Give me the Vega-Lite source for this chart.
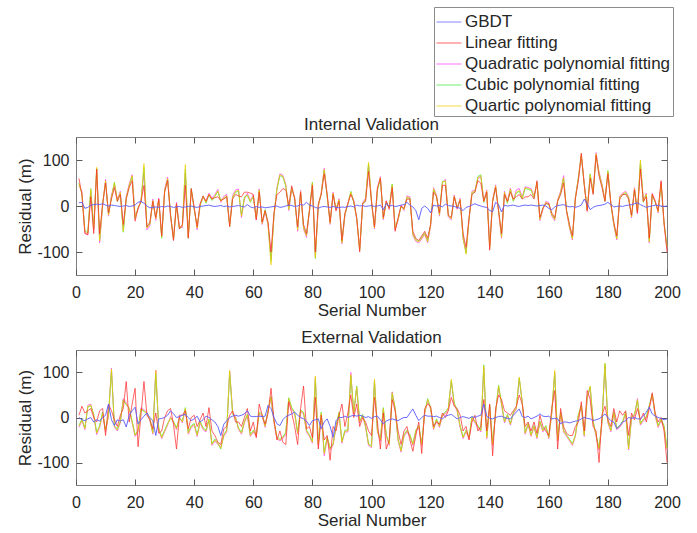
{
"$schema": "https://vega.github.io/schema/vega-lite/v6.json",
"background": "white",
"padding": {"left": 16, "top": 6, "right": 5, "bottom": 5},
"config": {
  "font": "Liberation Sans",
  "view": {"stroke": "#7f7f7f", "strokeWidth": 1},
  "axis": {"grid": false, "domain": false, "tickColor": "#5a5a5a", "tickSize": -6, "labelPadding": 13, "labelFont": "Liberation Sans", "titleFont": "Liberation Sans", "labelFontSize": 16, "titleFontSize": 17, "titleFontWeight": "normal", "labelColor": "#262626", "titleColor": "#262626", "labelFlush": false, "labelExpr": "'' + datum.value"},
  "axisX": {"labelPadding": 15},
  "title": {"font": "Liberation Sans", "fontSize": 17, "fontWeight": "normal", "color": "#262626", "offset": 3},
  "legend": {"labelFont": "Liberation Sans"}
},
"datasets": {"rows": [
{"p":"I","n":1,"g":7,"l":60,"q":44,"c":50,"r":48},
{"p":"I","n":2,"g":8,"l":25,"q":32,"c":26,"r":28},
{"p":"I","n":3,"g":-5,"l":-60,"q":-58,"c":-53,"r":-55},
{"p":"I","n":4,"g":-3,"l":-62,"q":-63,"c":-58,"r":-60},
{"p":"I","n":5,"g":2,"l":20,"q":32,"c":38,"r":36},
{"p":"I","n":6,"g":3,"l":-60,"q":-52,"c":-48,"r":-50},
{"p":"I","n":7,"g":4,"l":80,"q":78,"c":82,"r":84},
{"p":"I","n":8,"g":3,"l":-60,"q":-80,"c":-74,"r":-76},
{"p":"I","n":9,"g":5,"l":5,"q":-2,"c":4,"r":2},
{"p":"I","n":10,"g":2,"l":50,"q":58,"c":53,"r":55},
{"p":"I","n":11,"g":0,"l":-15,"q":-22,"c":-18,"r":-20},
{"p":"I","n":12,"g":2,"l":15,"q":24,"c":18,"r":20},
{"p":"I","n":13,"g":1,"l":40,"q":46,"c":52,"r":50},
{"p":"I","n":14,"g":0,"l":10,"q":15,"c":10,"r":12},
{"p":"I","n":15,"g":-1,"l":25,"q":32,"c":28,"r":30},
{"p":"I","n":16,"g":0,"l":-40,"q":-52,"c":-57,"r":-55},
{"p":"I","n":17,"g":1,"l":15,"q":21,"c":16,"r":18},
{"p":"I","n":18,"g":-1,"l":40,"q":48,"c":43,"r":45},
{"p":"I","n":19,"g":0,"l":55,"q":68,"c":64,"r":66},
{"p":"I","n":20,"g":2,"l":-33,"q":-22,"c":-27,"r":-25},
{"p":"I","n":21,"g":8,"l":-5,"q":-8,"c":-3,"r":-5},
{"p":"I","n":22,"g":10,"l":10,"q":13,"c":8,"r":10},
{"p":"I","n":23,"g":6,"l":45,"q":72,"c":84,"r":92},
{"p":"I","n":24,"g":0,"l":-45,"q":-52,"c":-46,"r":-48},
{"p":"I","n":25,"g":-4,"l":-35,"q":-43,"c":-38,"r":-40},
{"p":"I","n":26,"g":-3,"l":10,"q":15,"c":10,"r":12},
{"p":"I","n":27,"g":-2,"l":-25,"q":-31,"c":-26,"r":-28},
{"p":"I","n":28,"g":-3,"l":15,"q":17,"c":12,"r":14},
{"p":"I","n":29,"g":-1,"l":-65,"q":-65,"c":-70,"r":-68},
{"p":"I","n":30,"g":-2,"l":30,"q":37,"c":32,"r":34},
{"p":"I","n":31,"g":0,"l":55,"q":63,"c":58,"r":60},
{"p":"I","n":32,"g":-1,"l":-20,"q":-23,"c":-18,"r":-20},
{"p":"I","n":33,"g":-3,"l":-75,"q":-70,"c":-74,"r":-72},
{"p":"I","n":34,"g":-2,"l":5,"q":8,"c":3,"r":5},
{"p":"I","n":35,"g":-1,"l":-50,"q":-45,"c":-50,"r":-48},
{"p":"I","n":36,"g":-3,"l":-40,"q":-47,"c":-42,"r":-44},
{"p":"I","n":37,"g":-2,"l":45,"q":72,"c":80,"r":90},
{"p":"I","n":38,"g":-1,"l":-70,"q":-65,"c":-70,"r":-68},
{"p":"I","n":39,"g":0,"l":38,"q":33,"c":38,"r":36},
{"p":"I","n":40,"g":-2,"l":-5,"q":-2,"c":-7,"r":-5},
{"p":"I","n":41,"g":-3,"l":-45,"q":-52,"c":-46,"r":-48},
{"p":"I","n":42,"g":-1,"l":5,"q":4,"c":0,"r":2},
{"p":"I","n":43,"g":0,"l":22,"q":17,"c":22,"r":20},
{"p":"I","n":44,"g":1,"l":10,"q":12,"c":6,"r":8},
{"p":"I","n":45,"g":2,"l":25,"q":28,"c":24,"r":26},
{"p":"I","n":46,"g":0,"l":15,"q":17,"c":12,"r":14},
{"p":"I","n":47,"g":-1,"l":18,"q":25,"c":20,"r":22},
{"p":"I","n":48,"g":0,"l":20,"q":36,"c":31,"r":33},
{"p":"I","n":49,"g":1,"l":12,"q":8,"c":12,"r":10},
{"p":"I","n":50,"g":-1,"l":15,"q":21,"c":16,"r":18},
{"p":"I","n":51,"g":0,"l":20,"q":25,"c":20,"r":22},
{"p":"I","n":52,"g":-2,"l":-45,"q":-40,"c":-44,"r":-42},
{"p":"I","n":53,"g":-1,"l":15,"q":23,"c":18,"r":20},
{"p":"I","n":54,"g":0,"l":25,"q":35,"c":30,"r":32},
{"p":"I","n":55,"g":1,"l":22,"q":37,"c":32,"r":34},
{"p":"I","n":56,"g":-1,"l":20,"q":-25,"c":-20,"r":-22},
{"p":"I","n":57,"g":-2,"l":30,"q":15,"c":20,"r":18},
{"p":"I","n":58,"g":3,"l":30,"q":28,"c":23,"r":25},
{"p":"I","n":59,"g":-2,"l":28,"q":12,"c":8,"r":10},
{"p":"I","n":60,"g":-4,"l":25,"q":24,"c":20,"r":22},
{"p":"I","n":61,"g":-1,"l":-30,"q":-30,"c":-26,"r":-28},
{"p":"I","n":62,"g":-3,"l":30,"q":37,"c":33,"r":35},
{"p":"I","n":63,"g":-2,"l":-35,"q":-40,"c":-36,"r":-38},
{"p":"I","n":64,"g":-4,"l":-10,"q":-12,"c":-8,"r":-10},
{"p":"I","n":65,"g":-3,"l":-35,"q":-42,"c":-38,"r":-40},
{"p":"I","n":66,"g":-2,"l":-100,"q":-115,"c":-120,"r":-128},
{"p":"I","n":67,"g":-1,"l":-15,"q":-22,"c":-18,"r":-20},
{"p":"I","n":68,"g":0,"l":25,"q":40,"c":36,"r":38},
{"p":"I","n":69,"g":-3,"l":30,"q":70,"c":66,"r":68},
{"p":"I","n":70,"g":-2,"l":38,"q":67,"c":63,"r":65},
{"p":"I","n":71,"g":0,"l":35,"q":47,"c":43,"r":45},
{"p":"I","n":72,"g":2,"l":0,"q":-10,"c":-6,"r":-8},
{"p":"I","n":73,"g":1,"l":44,"q":36,"c":40,"r":38},
{"p":"I","n":74,"g":-1,"l":15,"q":20,"c":16,"r":18},
{"p":"I","n":75,"g":0,"l":-45,"q":-55,"c":-50,"r":-52},
{"p":"I","n":76,"g":3,"l":30,"q":34,"c":30,"r":32},
{"p":"I","n":77,"g":2,"l":-40,"q":-50,"c":-46,"r":-48},
{"p":"I","n":78,"g":8,"l":-60,"q":-68,"c":-63,"r":-65},
{"p":"I","n":79,"g":2,"l":-10,"q":-12,"c":-8,"r":-10},
{"p":"I","n":80,"g":0,"l":45,"q":48,"c":52,"r":50},
{"p":"I","n":81,"g":-3,"l":-100,"q":-110,"c":-114,"r":-112},
{"p":"I","n":82,"g":-5,"l":5,"q":-2,"c":2,"r":0},
{"p":"I","n":83,"g":-2,"l":25,"q":30,"c":26,"r":28},
{"p":"I","n":84,"g":-1,"l":70,"q":82,"c":78,"r":80},
{"p":"I","n":85,"g":-2,"l":25,"q":24,"c":20,"r":22},
{"p":"I","n":86,"g":-3,"l":-35,"q":-40,"c":-36,"r":-38},
{"p":"I","n":87,"g":-1,"l":25,"q":30,"c":26,"r":28},
{"p":"I","n":88,"g":-3,"l":-10,"q":-10,"c":-6,"r":-8},
{"p":"I","n":89,"g":-4,"l":10,"q":16,"c":12,"r":14},
{"p":"I","n":90,"g":-2,"l":-75,"q":-82,"c":-78,"r":-80},
{"p":"I","n":91,"g":-3,"l":-15,"q":-22,"c":-18,"r":-20},
{"p":"I","n":92,"g":-1,"l":5,"q":7,"c":3,"r":5},
{"p":"I","n":93,"g":0,"l":25,"q":28,"c":32,"r":30},
{"p":"I","n":94,"g":-2,"l":10,"q":12,"c":8,"r":10},
{"p":"I","n":95,"g":2,"l":-25,"q":-30,"c":-26,"r":-28},
{"p":"I","n":96,"g":0,"l":-100,"q":-92,"c":-96,"r":-95},
{"p":"I","n":97,"g":1,"l":5,"q":7,"c":3,"r":5},
{"p":"I","n":98,"g":-1,"l":10,"q":17,"c":13,"r":15},
{"p":"I","n":99,"g":0,"l":75,"q":88,"c":92,"r":95},
{"p":"I","n":100,"g":1,"l":10,"q":12,"c":8,"r":10},
{"p":"I","n":101,"g":-1,"l":-45,"q":-50,"c":-46,"r":-48},
{"p":"I","n":102,"g":0,"l":40,"q":37,"c":33,"r":35},
{"p":"I","n":103,"g":2,"l":60,"q":64,"c":60,"r":62},
{"p":"I","n":104,"g":-8,"l":-25,"q":-30,"c":-26,"r":-28},
{"p":"I","n":105,"g":5,"l":10,"q":12,"c":8,"r":10},
{"p":"I","n":106,"g":0,"l":-5,"q":-8,"c":-4,"r":-6},
{"p":"I","n":107,"g":1,"l":40,"q":44,"c":48,"r":46},
{"p":"I","n":108,"g":-1,"l":-55,"q":-52,"c":-48,"r":-50},
{"p":"I","n":109,"g":0,"l":-25,"q":-32,"c":-28,"r":-30},
{"p":"I","n":110,"g":2,"l":0,"q":2,"c":-2,"r":0},
{"p":"I","n":111,"g":3,"l":-5,"q":-10,"c":-6,"r":-8},
{"p":"I","n":112,"g":8,"l":15,"q":22,"c":18,"r":20},
{"p":"I","n":113,"g":2,"l":15,"q":20,"c":16,"r":18},
{"p":"I","n":114,"g":-2,"l":-55,"q":-64,"c":-60,"r":-62},
{"p":"I","n":115,"g":-10,"l":-70,"q":-77,"c":-73,"r":-75},
{"p":"I","n":116,"g":-30,"l":-75,"q":-80,"c":-76,"r":-78},
{"p":"I","n":117,"g":-5,"l":-65,"q":-72,"c":-68,"r":-70},
{"p":"I","n":118,"g":0,"l":-55,"q":-62,"c":-58,"r":-60},
{"p":"I","n":119,"g":-5,"l":-70,"q":-80,"c":-76,"r":-78},
{"p":"I","n":120,"g":-15,"l":-40,"q":-44,"c":-40,"r":-42},
{"p":"I","n":121,"g":2,"l":30,"q":40,"c":36,"r":38},
{"p":"I","n":122,"g":0,"l":20,"q":24,"c":20,"r":22},
{"p":"I","n":123,"g":1,"l":-15,"q":-22,"c":-18,"r":-20},
{"p":"I","n":124,"g":-2,"l":45,"q":50,"c":54,"r":52},
{"p":"I","n":125,"g":4,"l":45,"q":58,"c":53,"r":55},
{"p":"I","n":126,"g":1,"l":-20,"q":-24,"c":-20,"r":-22},
{"p":"I","n":127,"g":0,"l":-25,"q":-30,"c":-26,"r":-28},
{"p":"I","n":128,"g":-1,"l":20,"q":24,"c":20,"r":22},
{"p":"I","n":129,"g":-3,"l":-5,"q":-7,"c":-3,"r":-5},
{"p":"I","n":130,"g":-5,"l":12,"q":17,"c":13,"r":15},
{"p":"I","n":131,"g":-10,"l":-60,"q":-72,"c":-68,"r":-70},
{"p":"I","n":132,"g":-3,"l":-90,"q":-100,"c":-102,"r":-105},
{"p":"I","n":133,"g":-1,"l":-25,"q":-32,"c":-28,"r":-30},
{"p":"I","n":134,"g":2,"l":25,"q":32,"c":28,"r":30},
{"p":"I","n":135,"g":5,"l":30,"q":34,"c":30,"r":32},
{"p":"I","n":136,"g":2,"l":55,"q":60,"c":64,"r":62},
{"p":"I","n":137,"g":0,"l":50,"q":64,"c":68,"r":66},
{"p":"I","n":138,"g":-2,"l":10,"q":12,"c":8,"r":10},
{"p":"I","n":139,"g":-3,"l":30,"q":35,"c":31,"r":33},
{"p":"I","n":140,"g":-10,"l":-96,"q":-85,"c":-88,"r":-90},
{"p":"I","n":141,"g":-12,"l":10,"q":14,"c":10,"r":12},
{"p":"I","n":142,"g":8,"l":40,"q":46,"c":42,"r":44},
{"p":"I","n":143,"g":3,"l":-10,"q":-12,"c":-8,"r":-10},
{"p":"I","n":144,"g":-13,"l":-60,"q":-70,"c":-66,"r":-68},
{"p":"I","n":145,"g":2,"l":25,"q":32,"c":28,"r":30},
{"p":"I","n":146,"g":0,"l":10,"q":10,"c":6,"r":8},
{"p":"I","n":147,"g":1,"l":30,"q":39,"c":35,"r":37},
{"p":"I","n":148,"g":2,"l":15,"q":14,"c":10,"r":12},
{"p":"I","n":149,"g":0,"l":20,"q":35,"c":28,"r":30},
{"p":"I","n":150,"g":-1,"l":25,"q":38,"c":32,"r":34},
{"p":"I","n":151,"g":1,"l":15,"q":20,"c":16,"r":18},
{"p":"I","n":152,"g":2,"l":20,"q":42,"c":38,"r":40},
{"p":"I","n":153,"g":1,"l":20,"q":40,"c":36,"r":38},
{"p":"I","n":154,"g":2,"l":25,"q":38,"c":34,"r":36},
{"p":"I","n":155,"g":1,"l":15,"q":22,"c":18,"r":20},
{"p":"I","n":156,"g":0,"l":55,"q":48,"c":52,"r":50},
{"p":"I","n":157,"g":1,"l":-25,"q":-32,"c":-28,"r":-30},
{"p":"I","n":158,"g":2,"l":-5,"q":-8,"c":-4,"r":-6},
{"p":"I","n":159,"g":0,"l":5,"q":10,"c":6,"r":8},
{"p":"I","n":160,"g":-5,"l":5,"q":7,"c":3,"r":5},
{"p":"I","n":161,"g":-8,"l":-15,"q":-22,"c":-18,"r":-20},
{"p":"I","n":162,"g":-2,"l":-25,"q":-32,"c":-28,"r":-30},
{"p":"I","n":163,"g":1,"l":10,"q":14,"c":10,"r":12},
{"p":"I","n":164,"g":2,"l":25,"q":32,"c":28,"r":30},
{"p":"I","n":165,"g":3,"l":50,"q":66,"c":60,"r":62},
{"p":"I","n":166,"g":0,"l":-10,"q":-12,"c":-8,"r":-10},
{"p":"I","n":167,"g":-2,"l":-40,"q":-48,"c":-44,"r":-46},
{"p":"I","n":168,"g":-1,"l":-65,"q":-74,"c":-70,"r":-72},
{"p":"I","n":169,"g":-3,"l":15,"q":21,"c":17,"r":19},
{"p":"I","n":170,"g":-1,"l":55,"q":58,"c":62,"r":60},
{"p":"I","n":171,"g":2,"l":115,"q":108,"c":110,"r":112},
{"p":"I","n":172,"g":15,"l":45,"q":50,"c":46,"r":48},
{"p":"I","n":173,"g":5,"l":-10,"q":-12,"c":-8,"r":-10},
{"p":"I","n":174,"g":-8,"l":60,"q":66,"c":70,"r":68},
{"p":"I","n":175,"g":-3,"l":25,"q":32,"c":28,"r":30},
{"p":"I","n":176,"g":0,"l":110,"q":116,"c":110,"r":114},
{"p":"I","n":177,"g":1,"l":65,"q":74,"c":70,"r":72},
{"p":"I","n":178,"g":2,"l":40,"q":48,"c":44,"r":46},
{"p":"I","n":179,"g":4,"l":10,"q":14,"c":10,"r":12},
{"p":"I","n":180,"g":8,"l":70,"q":73,"c":77,"r":75},
{"p":"I","n":181,"g":3,"l":5,"q":7,"c":3,"r":5},
{"p":"I","n":182,"g":-2,"l":-35,"q":-42,"c":-38,"r":-40},
{"p":"I","n":183,"g":-1,"l":-65,"q":-74,"c":-70,"r":-72},
{"p":"I","n":184,"g":0,"l":15,"q":22,"c":18,"r":20},
{"p":"I","n":185,"g":-1,"l":25,"q":28,"c":24,"r":26},
{"p":"I","n":186,"g":1,"l":25,"q":32,"c":28,"r":30},
{"p":"I","n":187,"g":2,"l":15,"q":21,"c":17,"r":19},
{"p":"I","n":188,"g":3,"l":-20,"q":-26,"c":-22,"r":-24},
{"p":"I","n":189,"g":5,"l":35,"q":40,"c":36,"r":38},
{"p":"I","n":190,"g":7,"l":-15,"q":-17,"c":-13,"r":-15},
{"p":"I","n":191,"g":3,"l":80,"q":90,"c":95,"r":100},
{"p":"I","n":192,"g":0,"l":10,"q":12,"c":8,"r":10},
{"p":"I","n":193,"g":-3,"l":20,"q":28,"c":24,"r":26},
{"p":"I","n":194,"g":-1,"l":-70,"q":-80,"c":-76,"r":-78},
{"p":"I","n":195,"g":0,"l":25,"q":28,"c":24,"r":26},
{"p":"I","n":196,"g":2,"l":10,"q":12,"c":8,"r":10},
{"p":"I","n":197,"g":1,"l":-10,"q":-15,"c":-11,"r":-13},
{"p":"I","n":198,"g":0,"l":55,"q":52,"c":48,"r":50},
{"p":"I","n":199,"g":-1,"l":-35,"q":-40,"c":-36,"r":-38},
{"p":"I","n":200,"g":0,"l":-100,"q":-92,"c":-88,"r":-90},
{"p":"E","n":1,"g":0,"l":5,"q":-22,"c":-18,"r":-20},
{"p":"E","n":2,"g":-5,"l":25,"q":-7,"c":-3,"r":-5},
{"p":"E","n":3,"g":-7,"l":10,"q":-27,"c":-23,"r":-25},
{"p":"E","n":4,"g":-3,"l":15,"q":27,"c":23,"r":25},
{"p":"E","n":5,"g":0,"l":20,"q":30,"c":26,"r":28},
{"p":"E","n":6,"g":-10,"l":0,"q":3,"c":7,"r":5},
{"p":"E","n":7,"g":-5,"l":-10,"q":-38,"c":-33,"r":-35},
{"p":"E","n":8,"g":-8,"l":15,"q":-22,"c":-18,"r":-20},
{"p":"E","n":9,"g":0,"l":20,"q":8,"c":12,"r":10},
{"p":"E","n":10,"g":5,"l":-40,"q":-32,"c":-28,"r":-30},
{"p":"E","n":11,"g":30,"l":30,"q":3,"c":7,"r":5},
{"p":"E","n":12,"g":-5,"l":15,"q":110,"c":104,"r":108},
{"p":"E","n":13,"g":-18,"l":-5,"q":-22,"c":-18,"r":-20},
{"p":"E","n":14,"g":-5,"l":-20,"q":-30,"c":-26,"r":-28},
{"p":"E","n":15,"g":-8,"l":5,"q":-12,"c":-8,"r":-10},
{"p":"E","n":16,"g":-5,"l":20,"q":42,"c":38,"r":40},
{"p":"E","n":17,"g":-21,"l":80,"q":33,"c":28,"r":30},
{"p":"E","n":18,"g":5,"l":-10,"q":18,"c":22,"r":20},
{"p":"E","n":19,"g":15,"l":30,"q":-12,"c":-8,"r":-10},
{"p":"E","n":20,"g":23,"l":65,"q":-42,"c":-38,"r":-40},
{"p":"E","n":21,"g":-14,"l":-65,"q":-32,"c":-28,"r":-30},
{"p":"E","n":22,"g":-5,"l":5,"q":22,"c":18,"r":20},
{"p":"E","n":23,"g":3,"l":80,"q":17,"c":13,"r":15},
{"p":"E","n":24,"g":10,"l":5,"q":12,"c":8,"r":10},
{"p":"E","n":25,"g":0,"l":-5,"q":-7,"c":-3,"r":-5},
{"p":"E","n":26,"g":-7,"l":-25,"q":-37,"c":-33,"r":-35},
{"p":"E","n":27,"g":-40,"l":10,"q":105,"c":98,"r":105},
{"p":"E","n":28,"g":-3,"l":-35,"q":-27,"c":-23,"r":-25},
{"p":"E","n":29,"g":-2,"l":-30,"q":-47,"c":-43,"r":-45},
{"p":"E","n":30,"g":0,"l":0,"q":-32,"c":-28,"r":-30},
{"p":"E","n":31,"g":5,"l":15,"q":-17,"c":-13,"r":-15},
{"p":"E","n":32,"g":15,"l":20,"q":2,"c":-2,"r":0},
{"p":"E","n":33,"g":8,"l":-15,"q":-12,"c":-8,"r":-10},
{"p":"E","n":34,"g":0,"l":-70,"q":-27,"c":-23,"r":-25},
{"p":"E","n":35,"g":2,"l":5,"q":2,"c":-2,"r":0},
{"p":"E","n":36,"g":5,"l":5,"q":-12,"c":-8,"r":-10},
{"p":"E","n":37,"g":7,"l":15,"q":18,"c":22,"r":20},
{"p":"E","n":38,"g":0,"l":-25,"q":-37,"c":-33,"r":-35},
{"p":"E","n":39,"g":-7,"l":0,"q":-22,"c":-18,"r":-20},
{"p":"E","n":40,"g":-3,"l":5,"q":-17,"c":-13,"r":-15},
{"p":"E","n":41,"g":3,"l":-20,"q":-42,"c":-38,"r":-40},
{"p":"E","n":42,"g":-10,"l":-5,"q":-12,"c":-8,"r":-10},
{"p":"E","n":43,"g":-5,"l":10,"q":-27,"c":-23,"r":-25},
{"p":"E","n":44,"g":3,"l":-20,"q":-32,"c":-28,"r":-30},
{"p":"E","n":45,"g":0,"l":22,"q":-7,"c":-3,"r":-5},
{"p":"E","n":46,"g":-5,"l":-30,"q":-62,"c":-58,"r":-60},
{"p":"E","n":47,"g":-10,"l":-40,"q":-52,"c":-48,"r":-50},
{"p":"E","n":48,"g":-20,"l":-55,"q":-60,"c":-56,"r":-58},
{"p":"E","n":49,"g":-40,"l":-60,"q":-66,"c":-70,"r":-68},
{"p":"E","n":50,"g":-15,"l":-25,"q":-42,"c":-38,"r":-40},
{"p":"E","n":51,"g":-7,"l":-20,"q":-32,"c":-28,"r":-30},
{"p":"E","n":52,"g":0,"l":5,"q":103,"c":100,"r":105},
{"p":"E","n":53,"g":3,"l":15,"q":12,"c":8,"r":10},
{"p":"E","n":54,"g":5,"l":-10,"q":2,"c":-2,"r":0},
{"p":"E","n":55,"g":3,"l":-10,"q":-27,"c":-23,"r":-25},
{"p":"E","n":56,"g":5,"l":-20,"q":-37,"c":-33,"r":-35},
{"p":"E","n":57,"g":8,"l":0,"q":-12,"c":-8,"r":-10},
{"p":"E","n":58,"g":15,"l":20,"q":3,"c":7,"r":5},
{"p":"E","n":59,"g":3,"l":-30,"q":-42,"c":-38,"r":-40},
{"p":"E","n":60,"g":2,"l":-10,"q":-32,"c":-28,"r":-30},
{"p":"E","n":61,"g":2,"l":-45,"q":-42,"c":-38,"r":-40},
{"p":"E","n":62,"g":3,"l":30,"q":8,"c":12,"r":10},
{"p":"E","n":63,"g":2,"l":5,"q":3,"c":7,"r":5},
{"p":"E","n":64,"g":3,"l":-15,"q":-22,"c":-18,"r":-20},
{"p":"E","n":65,"g":27,"l":10,"q":13,"c":17,"r":15},
{"p":"E","n":66,"g":20,"l":65,"q":43,"c":47,"r":45},
{"p":"E","n":67,"g":0,"l":-5,"q":-12,"c":-8,"r":-10},
{"p":"E","n":68,"g":-14,"l":-50,"q":-47,"c":-43,"r":-45},
{"p":"E","n":69,"g":-18,"l":-30,"q":-52,"c":-48,"r":-50},
{"p":"E","n":70,"g":-5,"l":-55,"q":-47,"c":-43,"r":-45},
{"p":"E","n":71,"g":2,"l":-60,"q":-37,"c":-33,"r":-35},
{"p":"E","n":72,"g":5,"l":35,"q":40,"c":44,"r":42},
{"p":"E","n":73,"g":8,"l":10,"q":18,"c":22,"r":20},
{"p":"E","n":74,"g":12,"l":-20,"q":8,"c":12,"r":10},
{"p":"E","n":75,"g":5,"l":-60,"q":-37,"c":-33,"r":-35},
{"p":"E","n":76,"g":0,"l":20,"q":13,"c":17,"r":15},
{"p":"E","n":77,"g":-3,"l":70,"q":8,"c":12,"r":10},
{"p":"E","n":78,"g":-8,"l":-25,"q":-32,"c":-28,"r":-30},
{"p":"E","n":79,"g":-18,"l":-20,"q":-42,"c":-38,"r":-40},
{"p":"E","n":80,"g":-7,"l":-45,"q":-57,"c":-53,"r":-55},
{"p":"E","n":81,"g":-5,"l":45,"q":88,"c":85,"r":92},
{"p":"E","n":82,"g":-3,"l":-70,"q":-62,"c":-58,"r":-60},
{"p":"E","n":83,"g":-25,"l":5,"q":8,"c":12,"r":10},
{"p":"E","n":84,"g":-10,"l":-50,"q":-85,"c":-78,"r":-80},
{"p":"E","n":85,"g":-3,"l":-40,"q":-47,"c":-43,"r":-45},
{"p":"E","n":86,"g":-20,"l":-95,"q":-72,"c":-68,"r":-70},
{"p":"E","n":87,"g":-44,"l":-20,"q":-62,"c":-58,"r":-60},
{"p":"E","n":88,"g":-7,"l":-30,"q":-22,"c":-18,"r":-20},
{"p":"E","n":89,"g":0,"l":5,"q":8,"c":12,"r":10},
{"p":"E","n":90,"g":0,"l":30,"q":-57,"c":-53,"r":-55},
{"p":"E","n":91,"g":3,"l":-20,"q":-32,"c":-28,"r":-30},
{"p":"E","n":92,"g":0,"l":10,"q":-32,"c":-28,"r":-30},
{"p":"E","n":93,"g":3,"l":50,"q":100,"c":92,"r":96},
{"p":"E","n":94,"g":5,"l":0,"q":8,"c":12,"r":10},
{"p":"E","n":95,"g":3,"l":30,"q":66,"c":70,"r":68},
{"p":"E","n":96,"g":5,"l":-20,"q":-12,"c":-8,"r":-10},
{"p":"E","n":97,"g":3,"l":0,"q":3,"c":7,"r":5},
{"p":"E","n":98,"g":0,"l":-10,"q":-22,"c":-18,"r":-20},
{"p":"E","n":99,"g":2,"l":-30,"q":-62,"c":-58,"r":-60},
{"p":"E","n":100,"g":-2,"l":-40,"q":-67,"c":-63,"r":-65},
{"p":"E","n":101,"g":2,"l":45,"q":82,"c":80,"r":85},
{"p":"E","n":102,"g":3,"l":-10,"q":-32,"c":-28,"r":-30},
{"p":"E","n":103,"g":-5,"l":-70,"q":-52,"c":-48,"r":-50},
{"p":"E","n":104,"g":-14,"l":10,"q":18,"c":22,"r":20},
{"p":"E","n":105,"g":-8,"l":-70,"q":-42,"c":-38,"r":-40},
{"p":"E","n":106,"g":-5,"l":-50,"q":-62,"c":-58,"r":-60},
{"p":"E","n":107,"g":-3,"l":40,"q":57,"c":53,"r":55},
{"p":"E","n":108,"g":-5,"l":15,"q":18,"c":22,"r":20},
{"p":"E","n":109,"g":-7,"l":-30,"q":-52,"c":-48,"r":-50},
{"p":"E","n":110,"g":-3,"l":-60,"q":-77,"c":-73,"r":-75},
{"p":"E","n":111,"g":0,"l":-30,"q":-42,"c":-38,"r":-40},
{"p":"E","n":112,"g":0,"l":-20,"q":-32,"c":-28,"r":-30},
{"p":"E","n":113,"g":10,"l":-50,"q":-42,"c":-38,"r":-40},
{"p":"E","n":114,"g":19,"l":-75,"q":-62,"c":-58,"r":-60},
{"p":"E","n":115,"g":5,"l":-40,"q":-32,"c":-28,"r":-30},
{"p":"E","n":116,"g":-7,"l":-10,"q":-22,"c":-18,"r":-20},
{"p":"E","n":117,"g":0,"l":-80,"q":-62,"c":-58,"r":-60},
{"p":"E","n":118,"g":5,"l":20,"q":8,"c":12,"r":10},
{"p":"E","n":119,"g":3,"l":30,"q":38,"c":42,"r":40},
{"p":"E","n":120,"g":3,"l":25,"q":18,"c":22,"r":20},
{"p":"E","n":121,"g":2,"l":-20,"q":-27,"c":-23,"r":-25},
{"p":"E","n":122,"g":3,"l":-10,"q":-7,"c":-3,"r":-5},
{"p":"E","n":123,"g":0,"l":-15,"q":-22,"c":-18,"r":-20},
{"p":"E","n":124,"g":-3,"l":10,"q":3,"c":7,"r":5},
{"p":"E","n":125,"g":3,"l":0,"q":8,"c":12,"r":10},
{"p":"E","n":126,"g":5,"l":15,"q":18,"c":22,"r":20},
{"p":"E","n":127,"g":7,"l":45,"q":80,"c":82,"r":85},
{"p":"E","n":128,"g":2,"l":25,"q":28,"c":32,"r":30},
{"p":"E","n":129,"g":-3,"l":20,"q":13,"c":17,"r":15},
{"p":"E","n":130,"g":0,"l":5,"q":-22,"c":-18,"r":-20},
{"p":"E","n":131,"g":2,"l":-30,"q":-47,"c":-43,"r":-45},
{"p":"E","n":132,"g":0,"l":-20,"q":-32,"c":-28,"r":-30},
{"p":"E","n":133,"g":-2,"l":-50,"q":-47,"c":-43,"r":-45},
{"p":"E","n":134,"g":2,"l":-10,"q":-2,"c":2,"r":0},
{"p":"E","n":135,"g":0,"l":5,"q":-12,"c":-8,"r":-10},
{"p":"E","n":136,"g":3,"l":-30,"q":-22,"c":-18,"r":-20},
{"p":"E","n":137,"g":5,"l":-20,"q":-32,"c":-28,"r":-30},
{"p":"E","n":138,"g":30,"l":40,"q":110,"c":117,"r":115},
{"p":"E","n":139,"g":3,"l":-30,"q":-47,"c":-43,"r":-45},
{"p":"E","n":140,"g":-2,"l":30,"q":23,"c":27,"r":25},
{"p":"E","n":141,"g":-3,"l":-85,"q":-62,"c":-58,"r":-60},
{"p":"E","n":142,"g":0,"l":20,"q":8,"c":12,"r":10},
{"p":"E","n":143,"g":2,"l":50,"q":68,"c":72,"r":70},
{"p":"E","n":144,"g":3,"l":40,"q":28,"c":32,"r":30},
{"p":"E","n":145,"g":0,"l":15,"q":-12,"c":-8,"r":-10},
{"p":"E","n":146,"g":-2,"l":10,"q":3,"c":7,"r":5},
{"p":"E","n":147,"g":-3,"l":5,"q":-17,"c":-13,"r":-15},
{"p":"E","n":148,"g":5,"l":15,"q":8,"c":12,"r":10},
{"p":"E","n":149,"g":12,"l":25,"q":18,"c":22,"r":20},
{"p":"E","n":150,"g":19,"l":50,"q":85,"c":88,"r":90},
{"p":"E","n":151,"g":2,"l":30,"q":37,"c":33,"r":35},
{"p":"E","n":152,"g":0,"l":-20,"q":-37,"c":-33,"r":-35},
{"p":"E","n":153,"g":3,"l":-10,"q":-17,"c":-13,"r":-15},
{"p":"E","n":154,"g":-3,"l":-30,"q":-42,"c":-38,"r":-40},
{"p":"E","n":155,"g":0,"l":-10,"q":-22,"c":-18,"r":-20},
{"p":"E","n":156,"g":3,"l":-35,"q":-47,"c":-43,"r":-45},
{"p":"E","n":157,"g":8,"l":5,"q":-12,"c":-8,"r":-10},
{"p":"E","n":158,"g":3,"l":-20,"q":-32,"c":-28,"r":-30},
{"p":"E","n":159,"g":2,"l":-30,"q":-22,"c":-18,"r":-20},
{"p":"E","n":160,"g":3,"l":-40,"q":-47,"c":-43,"r":-45},
{"p":"E","n":161,"g":-3,"l":20,"q":8,"c":12,"r":10},
{"p":"E","n":162,"g":-2,"l":60,"q":100,"c":98,"r":105},
{"p":"E","n":163,"g":-3,"l":-70,"q":-52,"c":-48,"r":-50},
{"p":"E","n":164,"g":-14,"l":20,"q":8,"c":12,"r":10},
{"p":"E","n":165,"g":-10,"l":-20,"q":-32,"c":-28,"r":-30},
{"p":"E","n":166,"g":-10,"l":-35,"q":-42,"c":-38,"r":-40},
{"p":"E","n":167,"g":-12,"l":-40,"q":-52,"c":-48,"r":-50},
{"p":"E","n":168,"g":-10,"l":-40,"q":-62,"c":-58,"r":-60},
{"p":"E","n":169,"g":-8,"l":-20,"q":-42,"c":-38,"r":-40},
{"p":"E","n":170,"g":-7,"l":-10,"q":3,"c":7,"r":5},
{"p":"E","n":171,"g":-3,"l":35,"q":23,"c":27,"r":25},
{"p":"E","n":172,"g":0,"l":-30,"q":-42,"c":-38,"r":-40},
{"p":"E","n":173,"g":-2,"l":60,"q":43,"c":47,"r":45},
{"p":"E","n":174,"g":-3,"l":40,"q":66,"c":68,"r":70},
{"p":"E","n":175,"g":-7,"l":-20,"q":-12,"c":-8,"r":-10},
{"p":"E","n":176,"g":-5,"l":-30,"q":-42,"c":-38,"r":-40},
{"p":"E","n":177,"g":-3,"l":-100,"q":-72,"c":-68,"r":-70},
{"p":"E","n":178,"g":2,"l":5,"q":-12,"c":-8,"r":-10},
{"p":"E","n":179,"g":8,"l":25,"q":115,"c":120,"r":120},
{"p":"E","n":180,"g":0,"l":-5,"q":-12,"c":-8,"r":-10},
{"p":"E","n":181,"g":-7,"l":-20,"q":-32,"c":-28,"r":-30},
{"p":"E","n":182,"g":-10,"l":20,"q":8,"c":12,"r":10},
{"p":"E","n":183,"g":-25,"l":-10,"q":-27,"c":-23,"r":-25},
{"p":"E","n":184,"g":-18,"l":15,"q":-22,"c":-18,"r":-20},
{"p":"E","n":185,"g":-10,"l":5,"q":-12,"c":-8,"r":-10},
{"p":"E","n":186,"g":-7,"l":15,"q":8,"c":12,"r":10},
{"p":"E","n":187,"g":0,"l":-40,"q":-72,"c":-68,"r":-70},
{"p":"E","n":188,"g":-2,"l":10,"q":-2,"c":2,"r":0},
{"p":"E","n":189,"g":0,"l":-5,"q":3,"c":7,"r":5},
{"p":"E","n":190,"g":-3,"l":20,"q":42,"c":38,"r":40},
{"p":"E","n":191,"g":-3,"l":-5,"q":-17,"c":-13,"r":-15},
{"p":"E","n":192,"g":3,"l":10,"q":-7,"c":-3,"r":-5},
{"p":"E","n":193,"g":12,"l":-10,"q":-2,"c":2,"r":0},
{"p":"E","n":194,"g":23,"l":20,"q":23,"c":27,"r":25},
{"p":"E","n":195,"g":8,"l":55,"q":48,"c":52,"r":50},
{"p":"E","n":196,"g":3,"l":10,"q":3,"c":7,"r":5},
{"p":"E","n":197,"g":0,"l":-10,"q":-22,"c":-18,"r":-20},
{"p":"E","n":198,"g":-2,"l":0,"q":-7,"c":-3,"r":-5},
{"p":"E","n":199,"g":-5,"l":-30,"q":-22,"c":-18,"r":-20},
{"p":"E","n":200,"g":-3,"l":-100,"q":-72,"c":-68,"r":-70}
]},
"spacing": 9,
"vconcat": [
 {
  "width": 591, "height": 138,
  "title": "Internal Validation",
  "data": {"name": "rows"},
  "transform": [{"filter": "datum.p == 'I'"}, {"fold": ["g","q","c","r","l"], "as": ["key","value"]}],
  "layer": [
   {"transform": [{"filter": "datum.key != 'g'"}],
    "mark": {"type": "line", "strokeWidth": 1, "opacity": 0.72},
    "encoding": {
     "x": {"field": "n", "type": "quantitative", "scale": {"domain": [0,200], "nice": false, "zero": false}, "axis": {"values": [0,20,40,60,80,100,120,140,160,180,200], "title": "Serial Number", "titlePadding": 2}},
     "y": {"field": "value", "type": "quantitative", "scale": {"domain": [-150,150], "nice": false}, "axis": {"values": [-100,0,100], "title": "Residual (m)", "titlePadding": 2}},
     "color": {"field": "key", "type": "nominal", "scale": {"domain": ["g","l","q","c","r"], "range": ["#5a5aff","#ff2a2a","#ff3cff","#3ce83c","#f2cf00"]},
      "legend": {"title": null, "orient": "none", "legendX": 358, "legendY": -130, "symbolType": "stroke", "symbolSize": 625, "symbolStrokeWidth": 1, "labelFontSize": 17, "labelColor": "#262626", "labelOffset": 3, "rowPadding": -0.4, "padding": 2, "strokeColor": "#8c8c8c", "fillColor": "white", "labelLimit": 400,
       "labelExpr": "datum.label == 'g' ? 'GBDT' : datum.label == 'l' ? 'Linear fitting' : datum.label == 'q' ? 'Quadratic polynomial fitting' : datum.label == 'c' ? 'Cubic polynomial fitting' : 'Quartic polynomial fitting'"}}
    }},
   {"transform": [{"filter": "datum.key == 'g'"}],
    "mark": {"type": "line", "strokeWidth": 1, "opacity": 0.9},
    "encoding": {
     "x": {"field": "n", "type": "quantitative", "axis": null},
     "y": {"field": "value", "type": "quantitative", "axis": null},
     "color": {"field": "key", "type": "nominal", "legend": {"title": null, "orient": "none", "legendX": 358, "legendY": -130}}
    }},
   {"transform": [{"filter": "datum.key == 'g'"}],
    "mark": {"type": "line", "opacity": 0},
    "encoding": {
     "x": {"field": "n", "type": "quantitative", "axis": {"orient": "top", "values": [0,20,40,60,80,100,120,140,160,180,200], "labels": false, "title": null}},
     "y": {"field": "value", "type": "quantitative", "axis": {"orient": "right", "values": [-100,0,100], "labels": false, "title": null}}
    }}
  ],
  "resolve": {"axis": {"x": "independent", "y": "independent"}}
 },
 {
  "width": 591, "height": 135,
  "title": "External Validation",
  "data": {"name": "rows"},
  "transform": [{"filter": "datum.p == 'E'"}, {"fold": ["g","q","c","r","l"], "as": ["key","value"]}],
  "layer": [
   {"transform": [{"filter": "datum.key != 'g'"}],
    "mark": {"type": "line", "strokeWidth": 1, "opacity": 0.72},
    "encoding": {
     "x": {"field": "n", "type": "quantitative", "scale": {"domain": [0,200], "nice": false, "zero": false}, "axis": {"values": [0,20,40,60,80,100,120,140,160,180,200], "title": "Serial Number", "titlePadding": 2}},
     "y": {"field": "value", "type": "quantitative", "scale": {"domain": [-150,150], "nice": false}, "axis": {"values": [-100,0,100], "title": "Residual (m)", "titlePadding": 2}},
     "color": {"field": "key", "type": "nominal", "legend": {"title": null, "orient": "none", "legendX": 358, "legendY": -130}}
    }},
   {"transform": [{"filter": "datum.key == 'g'"}],
    "mark": {"type": "line", "strokeWidth": 1, "opacity": 0.9},
    "encoding": {
     "x": {"field": "n", "type": "quantitative", "axis": null},
     "y": {"field": "value", "type": "quantitative", "axis": null},
     "color": {"field": "key", "type": "nominal", "legend": {"title": null, "orient": "none", "legendX": 358, "legendY": -130}}
    }},
   {"transform": [{"filter": "datum.key == 'g'"}],
    "mark": {"type": "line", "opacity": 0},
    "encoding": {
     "x": {"field": "n", "type": "quantitative", "axis": {"orient": "top", "values": [0,20,40,60,80,100,120,140,160,180,200], "labels": false, "title": null}},
     "y": {"field": "value", "type": "quantitative", "axis": {"orient": "right", "values": [-100,0,100], "labels": false, "title": null}}
    }}
  ],
  "resolve": {"axis": {"x": "independent", "y": "independent"}}
 }
]
}
